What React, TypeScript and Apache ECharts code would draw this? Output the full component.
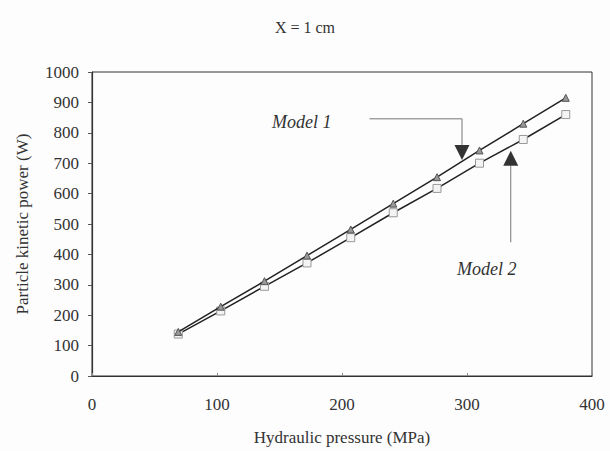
import React, { useEffect, useRef } from "react";
import * as echarts from "echarts";

const pressure = [69, 103, 138, 172, 207, 241, 276, 310, 345, 379];
const model1 = [145, 228, 312, 396, 482, 567, 654, 742, 830, 915];
const model2 = [138, 214, 295, 372, 455, 537, 617, 700, 778, 860];
const xTicks = [0, 100, 200, 300, 400];
const titleText = "X = 1 cm";
const xName = "Hydraulic pressure (MPa)";
const yName = "Particle kinetic power (W)";

const FONT = "'Liberation Serif', 'Times New Roman', serif";

export default function App() {
  const ref = useRef<HTMLDivElement>(null);
  useEffect(() => {
    if (!ref.current) return;
    const chart = echarts.init(ref.current, undefined, { renderer: "svg" });
    const textColor = "#333";
    chart.setOption({
      animation: false,
      backgroundColor: "#fdfdfd",
      title: {
        text: titleText,
        left: "center",
        top: 14,
        textStyle: { fontFamily: FONT, fontSize: 16, fontWeight: "normal", color: textColor },
      },
      grid: { left: 92, right: 18, top: 72, bottom: 73, show: true, borderColor: "#333", borderWidth: 1 },
      xAxis: {
        type: "value",
        min: xTicks[0],
        max: xTicks[xTicks.length - 1],
        interval: 100,
        name: xName,
        nameLocation: "middle",
        nameGap: 53,
        nameTextStyle: { fontFamily: FONT, fontSize: 17, color: textColor },
        axisLine: { show: true, lineStyle: { color: "#333", width: 1.2 } },
        axisTick: { show: true, inside: true, length: 3, lineStyle: { color: "#888" } },
        axisLabel: { fontFamily: FONT, fontSize: 17, color: textColor, margin: 20, formatter: (v: number) => String(v) },
        splitLine: { show: false },
      },
      yAxis: {
        type: "value",
        min: 0,
        max: 1000,
        interval: 100,
        name: yName,
        nameLocation: "middle",
        nameGap: 61,
        nameTextStyle: { fontFamily: FONT, fontSize: 17, color: textColor },
        axisLine: { show: true, lineStyle: { color: "#333", width: 1.2 } },
        axisTick: { show: true, length: 4, lineStyle: { color: "#555" } },
        axisLabel: { fontFamily: FONT, fontSize: 17, color: textColor, margin: 13, formatter: (v: number) => String(v) },
        splitLine: { show: false },
      },
      series: [
        {
          name: "Model 1",
          type: "line",
          data: pressure.map((p, i) => [p, model1[i]]),
          symbol: "triangle",
          symbolSize: 7,
          lineStyle: { color: "#222", width: 1.5 },
          itemStyle: { color: "#999", borderColor: "#555", borderWidth: 1 },
          z: 3,
        },
        {
          name: "Model 2",
          type: "line",
          data: pressure.map((p, i) => [p, model2[i]]),
          symbol: "rect",
          symbolSize: 8,
          lineStyle: { color: "#222", width: 1.5 },
          itemStyle: { color: "#f4f4f4", borderColor: "#999", borderWidth: 1 },
          z: 2,
        },
      ],
    });

    const px = (x: number, y: number) => chart.convertToPixel({ gridIndex: 0 }, [x, y]) as number[];
    // annotation anchors in data coordinates
    const m1Text = px(144, 837);
    const m1LineStart = px(222, 846);
    const m1Corner = px(296, 846);
    const m1ArrowTop = px(296, 760);
    const m2Text = px(292, 353);
    const m2LineBottom = px(335, 440);
    const m2ArrowBottom = px(335, 692);
    const tri = 7.5;
    chart.setOption({
      graphic: [
        {
          type: "text",
          x: m1Text[0],
          y: m1Text[1],
          style: { text: "Model 1", fontFamily: FONT, fontStyle: "italic", fontSize: 18, fill: "#333", textVerticalAlign: "middle" },
        },
        {
          type: "polyline",
          shape: { points: [m1LineStart, m1Corner, [m1Corner[0], m1ArrowTop[1]]] },
          style: { stroke: "#777", lineWidth: 1, fill: null },
        },
        {
          type: "polygon",
          shape: {
            points: [
              [m1ArrowTop[0] - tri, m1ArrowTop[1]],
              [m1ArrowTop[0] + tri, m1ArrowTop[1]],
              [m1ArrowTop[0], m1ArrowTop[1] + 2 * tri],
            ],
          },
          style: { fill: "#333" },
        },
        {
          type: "text",
          x: m2Text[0],
          y: m2Text[1],
          style: { text: "Model 2", fontFamily: FONT, fontStyle: "italic", fontSize: 18, fill: "#333", textVerticalAlign: "middle" },
        },
        {
          type: "line",
          shape: { x1: m2LineBottom[0], y1: m2LineBottom[1], x2: m2ArrowBottom[0], y2: m2ArrowBottom[1] },
          style: { stroke: "#777", lineWidth: 1 },
        },
        {
          type: "polygon",
          shape: {
            points: [
              [m2ArrowBottom[0] - tri, m2ArrowBottom[1]],
              [m2ArrowBottom[0] + tri, m2ArrowBottom[1]],
              [m2ArrowBottom[0], m2ArrowBottom[1] - 2 * tri],
            ],
          },
          style: { fill: "#333" },
        },
      ],
    });
    return () => chart.dispose();
  }, []);
  return <div ref={ref} style={{ width: 610, height: 451, position: "absolute", left: 0, top: 0 }} />;
}
